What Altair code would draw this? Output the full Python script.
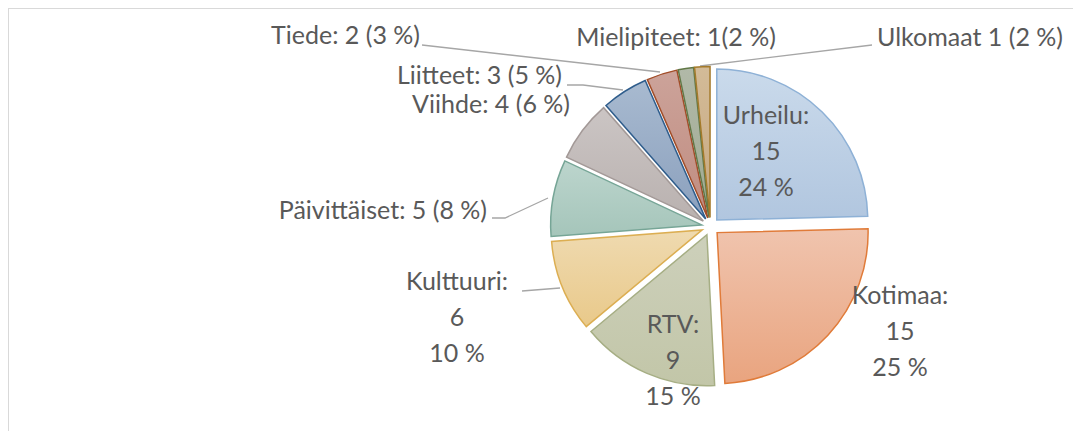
import altair as alt
import pandas as pd

# ---- data ----
categories = ["Urheilu", "Kotimaa", "RTV", "Kulttuuri", "Päivittäiset",
              "Viihde", "Liitteet", "Tiede", "Mielipiteet", "Ulkomaat"]
values = [15, 15, 9, 6, 5, 4, 3, 2, 1, 1]
labels = ["Urheilu:\n15\n24 %", "Kotimaa:\n15\n25 %", "RTV:\n9\n15 %",
          "Kulttuuri:\n6\n10 %", "Päivittäiset: 5 (8 %)", "Viihde: 4 (6 %)",
          "Liitteet: 3 (5 %)", "Tiede: 2 (3 %)", "Mielipiteet: 1(2 %)",
          "Ulkomaat 1 (2 %)"]

# ---- styles ----
fill_top = ["#cadaeb", "#f0c4ae", "#cdd0bb", "#efdab0", "#bcd5cd",
            "#cbc5c4", "#a8bad0", "#cca39a", "#b1b9a8", "#d3bb98"]
fill_bot = ["#b1c6df", "#e9a47f", "#c2c6a8", "#e9c98a", "#a5c5ba",
            "#b9b1af", "#8ba0bd", "#c08c80", "#a0aa92", "#c7a880"]
strokes = ["#8eb1d6", "#e07b39", "#a6ae84", "#dcae52", "#76a596",
           "#a39997", "#2f5d8c", "#a24d28", "#617847", "#a47a2a"]

# ---- layout (pixels in plot area) ----
W, H = 1065, 423
CX, CY, R, EXPLODE = 702.5, 218.5, 151, 9
FONT, FSIZE, TEXT_COLOR = "Lato", 25, "#595959"
label_layout = {  # category: (x, y of first line, align)
    "Urheilu": (758, 108, "center"),
    "Kotimaa": (892, 288, "center"),
    "RTV": (665, 317, "center"),
    "Kulttuuri": (449, 274, "center"),
    "Päivittäiset": (479, 203, "right"),
    "Viihde": (562, 97, "right"),
    "Liitteet": (554, 68, "right"),
    "Tiede": (412, 28, "right"),
    "Mielipiteet": (668, 30, "center"),
    "Ulkomaat": (869, 30, "left"),
}
leaders = {  # category: list of (x, y) points
    "Tiede": [(414, 37), (652, 64)],
    "Liitteet": [(559, 77), (575, 77), (615, 82)],
    "Päivittäiset": [(484, 210), (497, 210), (540, 190)],
    "Kulttuuri": [(514, 283), (552, 280)],
    "Ulkomaat": [(864, 37), (692, 58)],
}

df = pd.DataFrame({"idx": range(len(categories)), "category": categories,
                   "value": values})

base = (
    alt.Chart(df)
    .transform_window(cum="sum(value)", sort=[alt.SortField("idx")], frame=[None, 0])
    .transform_joinaggregate(total="sum(value)")
    .transform_calculate(
        t1="datum.cum / datum.total * 2 * PI",
        t0="(datum.cum - datum.value) / datum.total * 2 * PI",
    )
    .transform_calculate(mid="(datum.t0 + datum.t1) / 2")
    .transform_calculate(
        cx=f"{CX} + {EXPLODE} * sin(datum.mid)",
        cy=f"{CY} - {EXPLODE} * cos(datum.mid)",
    )
)

layers = []
for i, cat in enumerate(categories):
    grad = alt.LinearGradient(
        gradient="linear",
        stops=[alt.GradientStop(color=fill_top[i], offset=0),
               alt.GradientStop(color=fill_bot[i], offset=1)],
        x1=0, x2=0, y1=0, y2=1,
    )
    layers.append(
        base.transform_filter(alt.datum.category == cat)
        .mark_arc(radius=R, fill=grad, stroke=strokes[i], strokeWidth=1.5)
        .encode(
            theta=alt.Theta("t0:Q", scale=None),
            theta2="t1:Q",
            x=alt.X("cx:Q", scale=None, axis=None),
            y=alt.Y("cy:Q", scale=None, axis=None),
        )
    )

# leader lines
lead_rows = []
for cat, pts in leaders.items():
    for j, (x, y) in enumerate(pts):
        lead_rows.append({"category": cat, "seq": j, "px": x, "py": y})
lead_df = pd.DataFrame(lead_rows)
lead = alt.Chart(lead_df).mark_line(color="#a6a6a6", strokeWidth=1.3).encode(
    x=alt.X("px:Q", scale=None, axis=None),
    y=alt.Y("py:Q", scale=None, axis=None),
    detail="category:N",
    order="seq:Q",
)

# labels
lab_df = pd.DataFrame({
    "category": categories,
    "label": labels,
    "lx": [label_layout[c][0] for c in categories],
    "ly": [label_layout[c][1] for c in categories],
    "al": [label_layout[c][2] for c in categories],
})
text_layers = []
for al in ["left", "center", "right"]:
    text_layers.append(
        alt.Chart(lab_df).transform_filter(alt.datum.al == al)
        .mark_text(align=al, baseline="middle", font=FONT, fontSize=FSIZE,
                   color=TEXT_COLOR, lineBreak="\n", lineHeight=36)
        .encode(
            x=alt.X("lx:Q", scale=None, axis=None),
            y=alt.Y("ly:Q", scale=None, axis=None),
            text="label:N",
        )
    )

border_left = alt.Chart(df).mark_rule(color="#d9d9d9", strokeWidth=1).encode(
    x=alt.value(0.5), y=alt.value(0), y2=alt.value(H))
border_top = alt.Chart(df).mark_rule(color="#d9d9d9", strokeWidth=1).encode(
    y=alt.value(0.5), x=alt.value(0), x2=alt.value(W))

chart = (
    alt.layer(border_left, border_top, lead, *layers, *text_layers)
    .properties(width=W, height=H, padding=0, autosize="none")
    .configure_view(stroke=None)
)

chart.save("out.html", embed_options={"renderer": "svg", "actions": False})
